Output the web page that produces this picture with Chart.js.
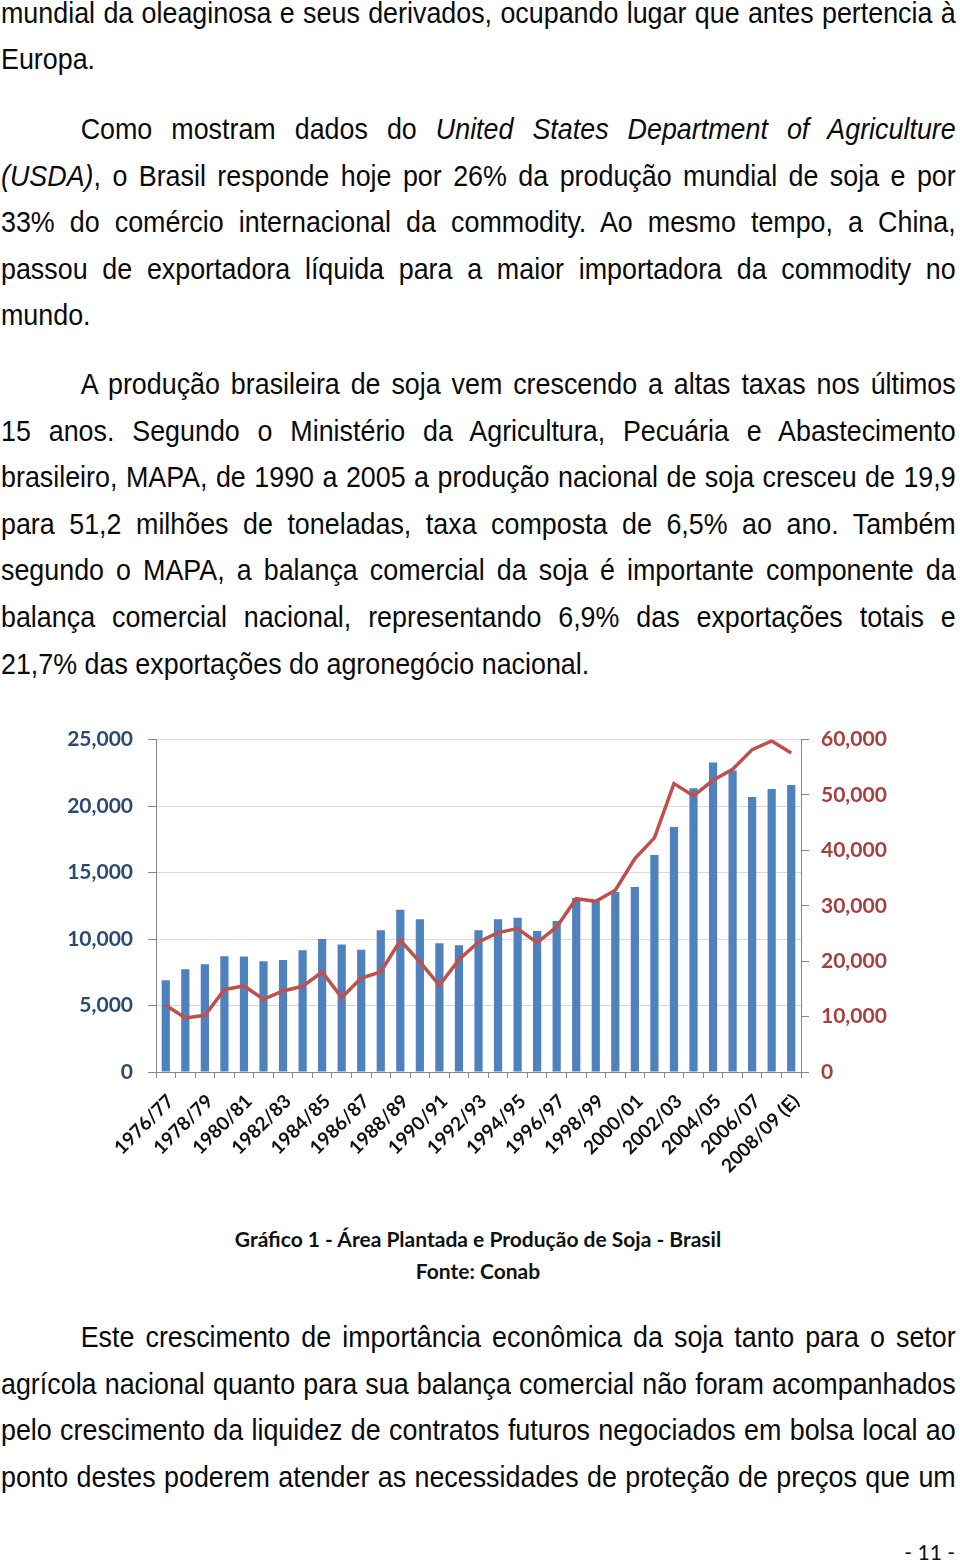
<!DOCTYPE html>
<html>
<head>
<meta charset="utf-8">
<script src="https://cdn.jsdelivr.net/npm/chart.js@4.4.1/dist/chart.umd.min.js"></script>
<style>
  html, body { margin: 0; padding: 0; background: #fff; }
  body { width: 960px; height: 1566px; position: relative; overflow: hidden; }
  .txt { position: absolute; left: 1px; width: 1031px; transform: scaleX(0.926); transform-origin: 0 0;
         font-family: "Liberation Sans", Arial, sans-serif; font-size: 29px; line-height: 46.6px; color: #0a0a0a; }
  .txt div { white-space: nowrap; }
  .txt .j { text-align: justify; text-align-last: justify; white-space: normal; }
  .ind { padding-left: 86px; }
  .cap { position: absolute; left: 0; width: 956px; text-align: center; font-family: Lato, sans-serif;
         font-weight: bold; font-size: 21px; color: #111; }
  #chartBox { position: absolute; left: 0; top: 711.7px; width: 960px; height: 478px; }
  #pg { position: absolute; right: 5px; top: 1539px; font-family: Lato, sans-serif; font-size: 21px; color: #111; }
</style>
</head>
<body>

<div class="txt" style="top:-10.5px">
  <div class="j">mundial da oleaginosa e seus derivados, ocupando lugar que antes pertencia à</div>
  <div>Europa.</div>
</div>

<div class="txt" style="top:106px">
  <div class="j ind">Como mostram dados do <i>United States Department of Agriculture</i></div>
  <div class="j"><i>(USDA)</i>, o Brasil responde hoje por 26% da produção mundial de soja e por</div>
  <div class="j">33% do comércio internacional da commodity. Ao mesmo tempo, a China,</div>
  <div class="j">passou de exportadora líquida para a maior importadora da commodity no</div>
  <div>mundo.</div>
</div>

<div class="txt" style="top:361px">
  <div class="j ind">A produção brasileira de soja vem crescendo a altas taxas nos últimos</div>
  <div class="j">15 anos. Segundo o Ministério da Agricultura, Pecuária e Abastecimento</div>
  <div class="j">brasileiro, MAPA, de 1990 a 2005 a produção nacional de soja cresceu de 19,9</div>
  <div class="j">para 51,2 milhões de toneladas, taxa composta de 6,5% ao ano. Também</div>
  <div class="j">segundo o MAPA, a balança comercial da soja é importante componente da</div>
  <div class="j">balança comercial nacional, representando 6,9% das exportações totais e</div>
  <div>21,7% das exportações do agronegócio nacional.</div>
</div>

<div id="chartBox"><canvas id="soja"></canvas></div>

<div class="cap" style="top:1226px">Gráfico 1 - Área Plantada e Produção de Soja - Brasil</div>
<div class="cap" style="top:1258px">Fonte: Conab</div>

<div class="txt" style="top:1314px">
  <div class="j ind">Este crescimento de importância econômica da soja tanto para o setor</div>
  <div class="j">agrícola nacional quanto para sua balança comercial não foram acompanhados</div>
  <div class="j">pelo crescimento da liquidez de contratos futuros negociados em bolsa local ao</div>
  <div class="j">ponto destes poderem atender as necessidades de proteção de preços que um</div>
</div>

<div id="pg">- 11 -</div>

<script>
const safras = ['1976/77', '1977/78', '1978/79', '1979/80', '1980/81', '1981/82', '1982/83', '1983/84',
  '1984/85', '1985/86', '1986/87', '1987/88', '1988/89', '1989/90', '1990/91', '1991/92', '1992/93',
  '1993/94', '1994/95', '1995/96', '1996/97', '1997/98', '1998/99', '1999/00', '2000/01', '2001/02',
  '2002/03', '2003/04', '2004/05', '2005/06', '2006/07', '2007/08', '2008/09 (E)'];

// área plantada (mil ha) - barras, eixo esquerdo
const areaPlantada = [6900, 7720, 8100, 8700, 8680, 8330, 8420, 9150, 10000, 9580, 9200, 10660, 12210,
  11480, 9680, 9530, 10660, 11480, 11610, 10610, 11360, 13090, 12840, 13540, 13920, 16320, 18430,
  21340, 23270, 22670, 20690, 21290, 21590];

// produção (mil t) - linha, eixo direito
const producao = [12040, 9750, 10230, 14870, 15530, 13120, 14620, 15470, 18050, 13420, 16970, 18050,
  23770, 19860, 15650, 20280, 23470, 25160, 25880, 23350, 26180, 31290, 30810, 32800, 38520, 42250,
  52060, 49830, 52660, 54640, 58190, 59760, 57590];

const ticksEsq = [0, 5000, 10000, 15000, 20000, 25000];
const ticksDir = [0, 10000, 20000, 30000, 40000, 50000, 60000];

const fmt = v => v.toLocaleString('en-US');

const ctx = document.getElementById('soja').getContext('2d');
new Chart(ctx, {
  data: {
    labels: safras,
    datasets: [{
      type: 'line',
      label: 'Produção',
      data: producao,
      yAxisID: 'y1',
      borderColor: '#C0504D',
      borderWidth: 3.5,
      pointRadius: 0,
      tension: 0,
      order: 1
    }, {
      type: 'bar',
      label: 'Área Plantada',
      data: areaPlantada,
      yAxisID: 'y',
      backgroundColor: '#4F81BD',
      barPercentage: 0.42,
      categoryPercentage: 1,
      order: 2
    }]
  },
  options: {
    responsive: true,
    maintainAspectRatio: false,
    animation: false,
    layout: { padding: { top: 11.6, left: 0, right: 0, bottom: 0 } },
    plugins: { legend: { display: false }, tooltip: { enabled: false } },
    scales: {
      x: {
        offset: true,
        grid: { offset: true, drawOnChartArea: false, tickLength: 6, tickColor: '#868686' },
        border: { color: '#868686' },
        ticks: {
          autoSkip: false, minRotation: 45, maxRotation: 45, padding: 12, labelOffset: 5,
          color: '#111', font: { family: 'Lato', weight: 'bold', size: 19 },
          callback: function (v, i) { return i % 2 === 0 ? this.getLabelForValue(v) : ''; }
        },
        afterFit: s => { s.height = 118; }
      },
      y: {
        position: 'left',
        min: 0, max: 25000,
        afterBuildTicks: s => { s.ticks = ticksEsq.map(v => ({ value: v })); },
        grid: { color: '#D9D9D9', tickColor: '#868686', tickLength: 8 },
        border: { color: '#868686' },
        ticks: { padding: 15, color: '#2B4A72', font: { family: 'Lato', weight: 'bold', size: 21 }, callback: fmt },
        afterFit: s => { s.width = 156; }
      },
      y1: {
        position: 'right',
        min: 0, max: 60000,
        afterBuildTicks: s => { s.ticks = ticksDir.map(v => ({ value: v })); },
        grid: { drawOnChartArea: false, tickColor: '#868686', tickLength: 8 },
        border: { color: '#868686' },
        ticks: { padding: 12, color: '#A5403E', font: { family: 'Lato', weight: 'bold', size: 21 }, callback: fmt },
        afterFit: s => { s.width = 159; }
      }
    }
  }
});
</script>
</body>
</html>
